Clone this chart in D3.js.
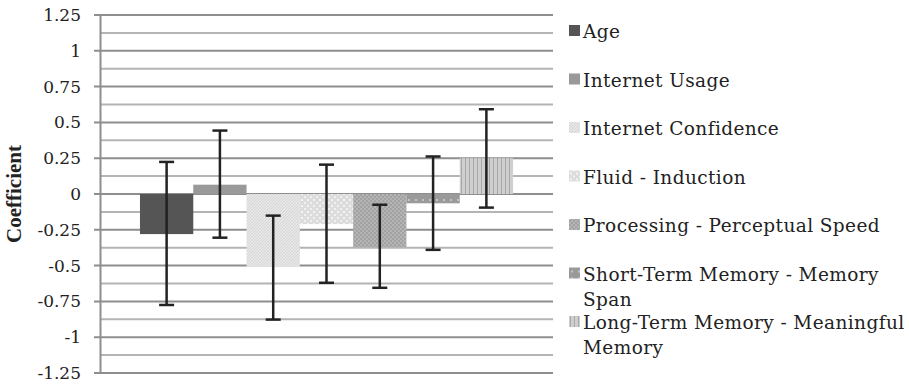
<!DOCTYPE html>
<html>
<head>
<meta charset="utf-8">
<script src="https://cdn.jsdelivr.net/npm/d3@7"></script>
<style>
  body { margin: 0; background: #fff; }
  svg { display: block; font-family: "DejaVu Serif", "Liberation Serif", serif; }
</style>
</head>
<body>
<div id="chart"></div>
<script>
// data
const series = ["Age", "Internet Usage", "Internet Confidence", "Fluid - Induction",
  "Processing - Perceptual Speed", "Short-Term Memory - Memory Span",
  "Long-Term Memory - Meaningful Memory"];
const legendLines = [["Age"], ["Internet Usage"], ["Internet Confidence"], ["Fluid - Induction"],
  ["Processing - Perceptual Speed"], ["Short-Term Memory - Memory", "Span"],
  ["Long-Term Memory - Meaningful", "Memory"]];
const values = [-0.28, 0.065, -0.51, -0.21, -0.37, -0.065, 0.25];
const errUpper = [0.224, 0.443, -0.151, 0.205, -0.075, 0.262, 0.592];
const errLower = [-0.775, -0.305, -0.877, -0.62, -0.655, -0.39, -0.095];
const yTicks = [1.25, 1, 0.75, 0.5, 0.25, 0, -0.25, -0.5, -0.75, -1, -1.25];
const minorTicks = [1.125, 0.875, 0.625, 0.375, 0.125, -0.125, -0.375, -0.625, -0.875, -1.125];

const width = 909, height = 387;
const plot = {left: 100, right: 553, top: 15, bottom: 373};

const svg = d3.select("#chart").append("svg")
    .attr("width", width)
    .attr("height", height);

// patterns for the grey fills
const defs = svg.append("defs");

function pattern(id, size, bg, draw) {
    const p = defs.append("pattern")
        .attr("id", id)
        .attr("patternUnits", "userSpaceOnUse")
        .attr("width", size)
        .attr("height", size);
    p.append("rect").attr("width", size).attr("height", size).attr("fill", bg);
    draw(p);
}

pattern("p-conf", 3, "#e6e6e6", p => {
    p.append("path").attr("d", "M0,3 L3,0 M-1,1 L1,-1 M2,4 L4,2")
        .attr("stroke", "#d2d2d2").attr("stroke-width", 0.8);
});
pattern("p-fluid", 6, "#dcdcdc", p => {
    p.append("rect").attr("x", 1).attr("y", 1).attr("width", 2).attr("height", 2).attr("fill", "#f4f4f4");
    p.append("rect").attr("x", 4).attr("y", 4).attr("width", 2).attr("height", 2).attr("fill", "#f0f0f0");
});
pattern("p-proc", 4, "#a2a2a2", p => {
    p.append("rect").attr("x", 0).attr("y", 0).attr("width", 2).attr("height", 2).attr("fill", "#b4b4b4");
    p.append("rect").attr("x", 2).attr("y", 2).attr("width", 2).attr("height", 2).attr("fill", "#b4b4b4");
});
pattern("p-stm", 7, "#9a9a9a", p => {
    p.append("rect").attr("x", 2).attr("y", 3).attr("width", 2).attr("height", 2).attr("fill", "#c4c4c4");
});
pattern("p-ltm", 4, "#cfcfcf", p => {
    p.append("rect").attr("x", 1).attr("y", 0).attr("width", 1).attr("height", 4).attr("fill", "#a8a8a8");
});

const fills = ["#555555", "#999999", "url(#p-conf)", "url(#p-fluid)", "url(#p-proc)", "url(#p-stm)", "url(#p-ltm)"];

const y = d3.scaleLinear()
    .domain([-1.25, 1.25])
    .range([plot.bottom, plot.top]);

const x = d3.scaleBand()
    .domain(series)
    .range([plot.left, plot.right])
    .paddingInner(0)
    .paddingOuter(0.75);

// gridlines
svg.append("g")
  .selectAll("line")
  .data(minorTicks)
  .join("line")
    .attr("x1", plot.left).attr("x2", plot.right)
    .attr("y1", d => y(d)).attr("y2", d => y(d))
    .attr("stroke", "#b4b4b4").attr("stroke-width", 2);

svg.append("g")
  .selectAll("line")
  .data(yTicks)
  .join("line")
    .attr("x1", plot.left - 6).attr("x2", plot.right)
    .attr("y1", d => y(d)).attr("y2", d => y(d))
    .attr("stroke", "#8e8e8e").attr("stroke-width", 2);

// y axis
const yAxis = d3.axisLeft(y)
    .tickValues(yTicks)
    .tickFormat(d => String(d))
    .tickSize(0)
    .tickPadding(19);

svg.append("g")
    .attr("transform", `translate(${plot.left},0)`)
    .call(yAxis)
    .call(g => g.select(".domain").attr("stroke", "#8e8e8e").attr("stroke-width", 2))
    .call(g => g.selectAll("text")
        .attr("font-family", "DejaVu Serif")
        .attr("font-size", 17)
        .attr("fill", "#222"));

svg.append("text")
    .attr("transform", `translate(21,${y(0)}) rotate(-90)`)
    .attr("text-anchor", "middle")
    .attr("font-family", "Liberation Serif")
    .attr("font-size", 21)
    .attr("font-weight", "bold")
    .attr("fill", "#222")
    .text("Coefficient");

// bars
svg.append("g")
  .selectAll("rect")
  .data(series)
  .join("rect")
    .attr("x", d => x(d))
    .attr("width", x.bandwidth())
    .attr("y", (d, i) => y(Math.max(0, values[i])))
    .attr("height", (d, i) => Math.abs(y(values[i]) - y(0)))
    .attr("fill", (d, i) => fills[i]);

// error bars
const cap = 7.5;
const err = svg.append("g")
    .attr("stroke", "#222")
    .attr("stroke-width", 2.5)
  .selectAll("g")
  .data(series)
  .join("g");

err.append("line")
    .attr("x1", d => x(d) + x.bandwidth() / 2)
    .attr("x2", d => x(d) + x.bandwidth() / 2)
    .attr("y1", (d, i) => y(errUpper[i]))
    .attr("y2", (d, i) => y(errLower[i]));
err.append("line")
    .attr("x1", d => x(d) + x.bandwidth() / 2 - cap)
    .attr("x2", d => x(d) + x.bandwidth() / 2 + cap)
    .attr("y1", (d, i) => y(errUpper[i]))
    .attr("y2", (d, i) => y(errUpper[i]));
err.append("line")
    .attr("x1", d => x(d) + x.bandwidth() / 2 - cap)
    .attr("x2", d => x(d) + x.bandwidth() / 2 + cap)
    .attr("y1", (d, i) => y(errLower[i]))
    .attr("y2", (d, i) => y(errLower[i]));

// legend
const legend = svg.append("g")
  .selectAll("g")
  .data(series)
  .join("g")
    .attr("transform", (d, i) => `translate(569,${32 + i * 48.5})`);

legend.append("rect")
    .attr("x", 0).attr("y", -7)
    .attr("width", 11).attr("height", 11)
    .attr("fill", (d, i) => fills[i]);

legend.append("text")
    .attr("x", 14)
    .attr("y", 6)
    .attr("font-size", 18.5)
    .attr("letter-spacing", 0.4)
    .attr("fill", "#222")
  .selectAll("tspan")
  .data((d, i) => legendLines[i])
  .join("tspan")
    .attr("x", 14)
    .attr("dy", (d, j) => j === 0 ? 0 : 25)
    .text(d => d);
</script>
</body>
</html>
